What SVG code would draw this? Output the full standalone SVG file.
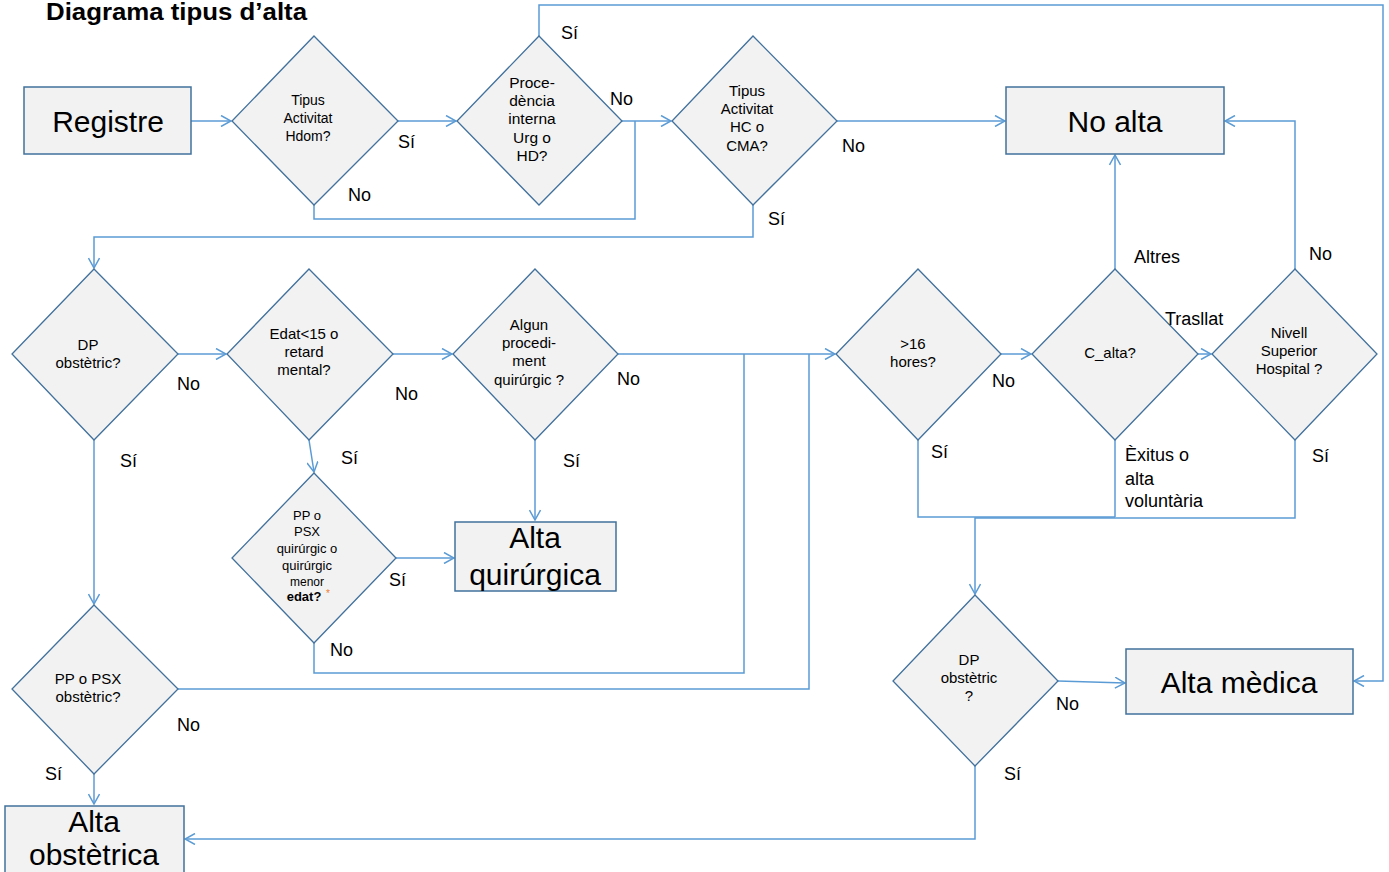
<svg xmlns="http://www.w3.org/2000/svg" width="1389" height="872" viewBox="0 0 1389 872">
<style>
.d{fill:#f2f2f2;stroke:#41719c;stroke-width:1.3}
.b{fill:#f2f2f2;stroke:#41719c;stroke-width:1.5}
.c{fill:none;stroke:#5b9bd5;stroke-width:1.5}
.t{font-family:"Liberation Sans",Arial,sans-serif;fill:#000;text-anchor:middle}
.s{font-size:15px}
.bx{font-size:30px}
.l{font-family:"Liberation Sans",Arial,sans-serif;font-size:18px;fill:#000}
</style>
<defs>
<marker id="a" viewBox="0 0 12 12" refX="11" refY="6" markerWidth="12" markerHeight="12" markerUnits="userSpaceOnUse" orient="auto">
<path d="M1,0.5 L11,6 L1,11.5" fill="none" stroke="#5b9bd5" stroke-width="1.5"/>
</marker>
</defs>
<rect width="1389" height="872" fill="#fff"/>
<text x="46" y="20" font-family="'Liberation Sans',Arial,sans-serif" font-weight="bold" font-size="23" textLength="261" lengthAdjust="spacingAndGlyphs">Diagrama tipus d’alta</text>

<g id="connectors">
<path class="c" d="M191,121 H231" marker-end="url(#a)"/>
<path class="c" d="M398,121 H456" marker-end="url(#a)"/>
<path class="c" d="M314,205 V219 H635 V121"/>
<path class="c" d="M622,121 H671" marker-end="url(#a)"/>
<path class="c" d="M539,36 V5 H1383 V681 H1354" marker-end="url(#a)"/>
<path class="c" d="M837,121 H1005" marker-end="url(#a)"/>
<path class="c" d="M753,205 V237 H94 V268" marker-end="url(#a)"/>
<path class="c" d="M178,354 H226" marker-end="url(#a)"/>
<path class="c" d="M393,354 H452" marker-end="url(#a)"/>
<path class="c" d="M309,440 L314,472" marker-end="url(#a)"/>
<path class="c" d="M618,354 H835" marker-end="url(#a)"/>
<path class="c" d="M535,440 V520" marker-end="url(#a)"/>
<path class="c" d="M396,558 H454" marker-end="url(#a)"/>
<path class="c" d="M314,643 V673 H744 V354"/>
<path class="c" d="M94,440 V604" marker-end="url(#a)"/>
<path class="c" d="M178,689 H809 V354"/>
<path class="c" d="M94,774 V804" marker-end="url(#a)"/>
<path class="c" d="M1001,354 H1031" marker-end="url(#a)"/>
<path class="c" d="M918,440 V517 H1115"/>
<path class="c" d="M1115,269 V155" marker-end="url(#a)"/>
<path class="c" d="M1198,354 H1211" marker-end="url(#a)"/>
<path class="c" d="M1115,440 V517"/>
<path class="c" d="M1295,269 V121 H1225" marker-end="url(#a)"/>
<path class="c" d="M1295,440 V518 H975 V594" marker-end="url(#a)"/>
<path class="c" d="M1058,681 L1125,683" marker-end="url(#a)"/>
<path class="c" d="M975,766 V839 H185" marker-end="url(#a)"/>
</g>

<g id="registre"><rect class="b" x="24" y="87" width="167" height="67"/><text class="t bx" x="108" y="132">Registre</text></g>
<g id="noalta"><rect class="b" x="1006" y="87" width="218" height="67"/><text class="t bx" x="1115" y="132">No alta</text></g>
<g id="altaquirurgica"><rect class="b" x="455" y="522" width="161" height="69"/><text class="t bx" x="535" y="548">Alta</text><text class="t bx" x="535" y="585">quirúrgica</text></g>
<g id="altaobstetrica"><rect class="b" x="5" y="806" width="179" height="80"/><text class="t bx" x="94" y="832">Alta</text><text class="t bx" x="94" y="865">obstètrica</text></g>
<g id="altamedica"><rect class="b" x="1126" y="649" width="227" height="65"/><text class="t bx" x="1239" y="693">Alta mèdica</text></g>

<g id="d_hdom"><path class="d" d="M314,36 L398,121 L314,205 L232,121 Z"/>
<text class="t" font-size="14" x="308"><tspan x="308" y="105">Tipus</tspan><tspan x="308" y="123">Activitat</tspan><tspan x="308" y="141">Hdom?</tspan></text></g>
<g id="d_procedencia"><path class="d" d="M539,36 L622,121 L539,205 L457,121 Z"/>
<text class="t" font-size="15.5"><tspan x="532" y="88">Proce-</tspan><tspan x="532" y="106">dència</tspan><tspan x="532" y="124">interna</tspan><tspan x="532" y="143">Urg o</tspan><tspan x="532" y="161">HD?</tspan></text></g>
<g id="d_hccma"><path class="d" d="M753,36 L837,121 L753,205 L672,121 Z"/>
<text class="t" font-size="15"><tspan x="747" y="96">Tipus</tspan><tspan x="747" y="114">Activitat</tspan><tspan x="747" y="132">HC o</tspan><tspan x="747" y="151">CMA?</tspan></text></g>
<g id="d_dpobst"><path class="d" d="M94,269 L178,354 L94,440 L12,354 Z"/>
<text class="t s"><tspan x="88" y="350">DP</tspan><tspan x="88" y="368">obstètric?</tspan></text></g>
<g id="d_edat"><path class="d" d="M309,269 L393,354 L309,440 L227,354 Z"/>
<text class="t s"><tspan x="304" y="339">Edat&lt;15 o</tspan><tspan x="304" y="357">retard</tspan><tspan x="304" y="375">mental?</tspan></text></g>
<g id="d_proc"><path class="d" d="M535,269 L618,354 L535,440 L453,354 Z"/>
<text class="t s"><tspan x="529" y="330">Algun</tspan><tspan x="529" y="348">procedi-</tspan><tspan x="529" y="366">ment</tspan><tspan x="529" y="385">quirúrgic ?</tspan></text></g>
<g id="d_ppquir"><path class="d" d="M314,473 L396,558 L314,643 L232,558 Z"/>
<text class="t" font-size="13"><tspan x="307" y="520">PP o</tspan><tspan x="307" y="536">PSX</tspan><tspan x="307" y="553">quirúrgic o</tspan><tspan x="307" y="570">quirúrgic</tspan><tspan x="307" y="586" font-size="12">menor</tspan><tspan x="304" y="601" font-weight="bold">edat?</tspan></text>
<text x="326" y="597" font-family="'Liberation Sans',Arial,sans-serif" font-size="10" fill="#ed7d31">*</text></g>
<g id="d_ppobst"><path class="d" d="M94,605 L178,689 L94,774 L12,689 Z"/>
<text class="t s"><tspan x="88" y="684">PP o PSX</tspan><tspan x="88" y="702">obstètric?</tspan></text></g>
<g id="d_16h"><path class="d" d="M918,269 L1001,354 L918,440 L836,354 Z"/>
<text class="t s"><tspan x="913" y="349">&gt;16</tspan><tspan x="913" y="367">hores?</tspan></text></g>
<g id="d_calta"><path class="d" d="M1115,269 L1198,354 L1115,440 L1032,354 Z"/>
<text class="t s" x="1110" y="358">C_alta?</text></g>
<g id="d_nivell"><path class="d" d="M1295,269 L1377,354 L1295,440 L1212,354 Z"/>
<text class="t s"><tspan x="1289" y="338">Nivell</tspan><tspan x="1289" y="356">Superior</tspan><tspan x="1289" y="374">Hospital ?</tspan></text></g>
<g id="d_dpobst2"><path class="d" d="M975,595 L1058,681 L975,766 L893,681 Z"/>
<text class="t s"><tspan x="969" y="665">DP</tspan><tspan x="969" y="683">obstètric</tspan><tspan x="969" y="701">?</tspan></text></g>

<g id="labels">
<text class="l" x="398" y="148">Sí</text>
<text class="l" x="348" y="201">No</text>
<text class="l" x="561" y="39">Sí</text>
<text class="l" x="610" y="105">No</text>
<text class="l" x="842" y="152">No</text>
<text class="l" x="768" y="225">Sí</text>
<text class="l" x="177" y="390">No</text>
<text class="l" x="120" y="467">Sí</text>
<text class="l" x="395" y="400">No</text>
<text class="l" x="341" y="464">Sí</text>
<text class="l" x="617" y="385">No</text>
<text class="l" x="563" y="467">Sí</text>
<text class="l" x="389" y="586">Sí</text>
<text class="l" x="330" y="656">No</text>
<text class="l" x="177" y="731">No</text>
<text class="l" x="45" y="780">Sí</text>
<text class="l" x="992" y="387">No</text>
<text class="l" x="931" y="458">Sí</text>
<text class="l" x="1134" y="263">Altres</text>
<text class="l" x="1309" y="260">No</text>
<text class="l" x="1165" y="325">Trasllat</text>
<text class="l" x="1125" y="461">Èxitus o</text>
<text class="l" x="1125" y="485">alta</text>
<text class="l" x="1125" y="507">voluntària</text>
<text class="l" x="1312" y="462">Sí</text>
<text class="l" x="1056" y="710">No</text>
<text class="l" x="1004" y="780">Sí</text>
</g>
</svg>
